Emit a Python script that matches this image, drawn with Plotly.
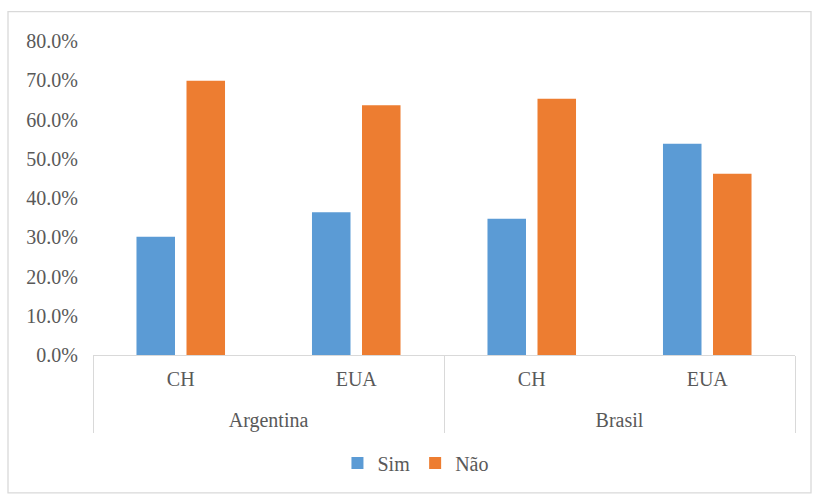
import plotly.graph_objects as go

# Survey answers by country and reference country
countries = ["Argentina", "Argentina", "Brasil", "Brasil"]
references = ["CH", "EUA", "CH", "EUA"]
sim = [0.301, 0.364, 0.347, 0.538]
nao = [0.699, 0.636, 0.653, 0.462]
y_ticks = [0, 0.1, 0.2, 0.3, 0.4, 0.5, 0.6, 0.7, 0.8]

W, H = 814, 495
L, R, T, B = 93, 19, 40.5, 140
pw, ph = W - L - R, H - T - B

FONT = "Liberation Serif, serif"
GREY = "#595959"

# tall invisible spaces around the inner level add room between the two label rows
pad = "<span style='font-size:40px'> </span>"
inner = [pad + r + pad for r in references]

fig = go.Figure()
fig.add_trace(go.Bar(name="Sim", x=[countries, inner], y=sim,
                     marker=dict(color="#5B9BD5", line=dict(width=0))))
fig.add_trace(go.Bar(name="Não", x=[countries, inner], y=nao,
                     marker=dict(color="#ED7D31", line=dict(width=0))))

def px_to_paper(x, y):
    return (x - L) / pw, (H - B - y) / ph

x0, y0 = px_to_paper(8, 11)
x1, y1 = px_to_paper(811, 493)

fig.update_layout(
    width=W, height=H,
    margin=dict(l=L, r=R, t=T, b=B, autoexpand=False),
    paper_bgcolor="white", plot_bgcolor="white",
    barmode="group", bargap=0.43, bargroupgap=0.23,
    font=dict(family=FONT, size=20, color=GREY),
    showlegend=True,
    legend=dict(orientation="h", x=0.511, xanchor="center", xref="container",
                y=32 / H, yanchor="middle", yref="container",
                font=dict(family=FONT, size=20, color=GREY),
                itemwidth=30, tracegroupgap=0, traceorder="normal"),
    shapes=[dict(type="rect", xref="paper", yref="paper",
                 x0=x0, y0=y1, x1=x1, y1=y0,
                 line=dict(color="#D9D9D9", width=1.3), layer="below")],
    xaxis=dict(type="multicategory", showline=True, linecolor="#D9D9D9",
               linewidth=1.3, showdividers=True, dividercolor="#D9D9D9",
               dividerwidth=1.3, ticks="", showgrid=False,
               ticklabelstandoff=6,
               tickfont=dict(family=FONT, size=20, color=GREY)),
    yaxis=dict(range=[0, 0.8], tickvals=y_ticks, tickformat=".1%",
               showgrid=False, showline=False, zeroline=False, ticks="",
               ticklabelstandoff=14,
               tickfont=dict(family=FONT, size=20, color=GREY)),
)

fig.write_html("out.html")
